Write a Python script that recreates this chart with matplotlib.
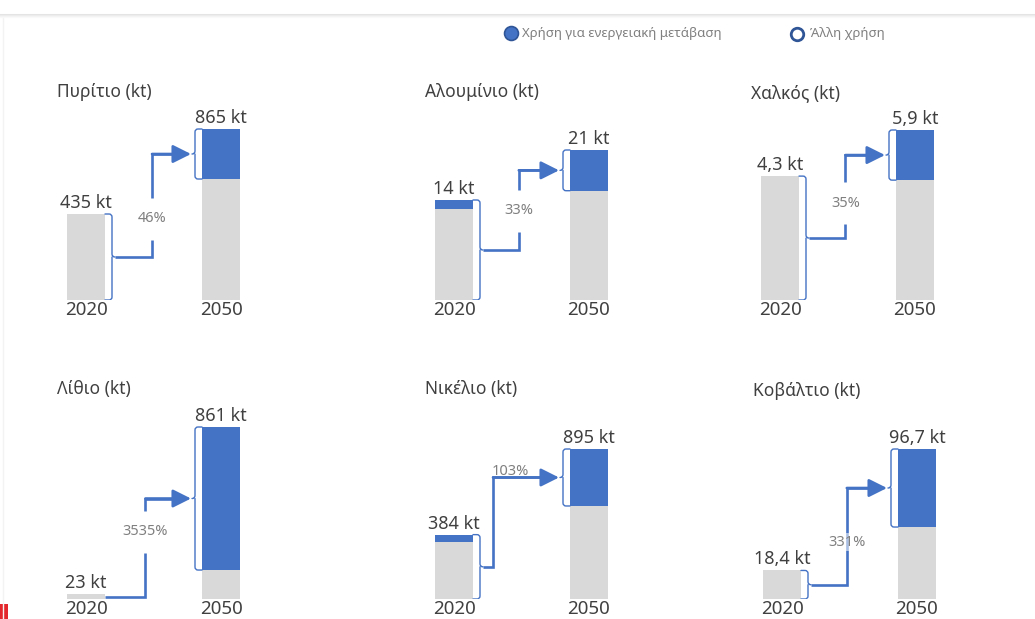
import matplotlib
matplotlib.use('Agg')
import matplotlib.pyplot as plt
from matplotlib.patches import Rectangle, PathPatch
from matplotlib.path import Path
from matplotlib.lines import Line2D

plt.rcParams['font.family'] = ['Noto Sans', 'DejaVu Sans']

# ---------------- data ----------------
minerals = ["Πυρίτιο", "Αλουμίνιο", "Χαλκός", "Λίθιο", "Νικέλιο", "Κοβάλτιο"]
years = ["2020", "2050"]
total_2020 = [435, 14, 4.3, 23, 384, 18.4]
total_2050 = [865, 21, 5.9, 861, 895, 96.7]
transition_2020 = [0, 1.2, 0, 0, 41, 0]
transition_2050 = [253, 5.7, 1.74, 716, 340, 50.3]
growth_labels = ["46%", "33%", "35%", "3535%", "103%", "331%"]
legend_labels = ["Χρήση για ενεργειακή μετάβαση", "Άλλη χρήση"]
unit = "kt"

# ---------------- style / layout ----------------
W, H = 1035, 619
BLUE = '#4472C4'
GREY = '#D9D9D9'
TXT = '#404040'
PCT = '#808080'
PX_UNIT = 135.0          # pixels per x data unit
BW = 38 / PX_UNIT        # bar width
AH = 240                 # axes height in px
centers_2020 = [86, 454, 780, 86, 454, 782]
baselines = [300, 300, 300, 599, 599, 599]
tops_2050 = [129, 150, 130, 427, 449, 449]
title_y = [92, 92, 93, 389, 389, 391]
vline_x = [0.489, 0.48, 0.485, 0.44, 0.289, 0.48]
label_mode = ['gap', 'gap', 'gap', 'gap', 'above', 'over']
label_frac = [0.37, 0.49, 0.42, 0.66, 0, 0.44]


def fx(px):
    return px / W


def fy(py):
    return 1 - py / H


def fmt(v):
    return f"{v:g}".replace('.', ',') + " " + unit


fig = plt.figure(figsize=(W / 100, H / 100), dpi=100)
fig.patch.set_facecolor('white')

# top shadow band, left faint border, red marker
for k, col in enumerate(['#E4E4E4', '#ECECEC', '#F3F3F3', '#F9F9F9']):
    fig.add_artist(Line2D([0, 1], [fy(14 + k), fy(14 + k)], color=col, lw=0.75,
                          transform=fig.transFigure))
fig.add_artist(Line2D([fx(3), fx(3)], [fy(18), 0], color='#F3F3F3', lw=1.0,
                      transform=fig.transFigure))
fig.add_artist(Rectangle((0, 0), fx(8), 15 / H, facecolor='#E3262B', edgecolor='none',
                         lw=0, transform=fig.transFigure))

# legend
fig.add_artist(Line2D([fx(511)], [fy(33)], marker='o', ms=10, mfc=BLUE, mec='#2F5597',
                      mew=1.2, transform=fig.transFigure))
fig.text(fx(522), fy(33), legend_labels[0], ha='left', va='center', fontsize=9.5, color=PCT)
fig.add_artist(Line2D([fx(797)], [fy(34)], marker='o', ms=9, mfc='white', mec='#2F5597',
                      mew=2.0, transform=fig.transFigure))
fig.text(fx(810), fy(34), legend_labels[1], ha='left', va='center', fontsize=9.5, color=PCT)


def bracket(ax, x_edge, y0, y1, side, xpp, ypp):
    w = 7 * xpp * side
    t = 3 * xpp * side
    rx = 3 * xpp * side
    ry = min(3 * ypp, (y1 - y0) / 4)
    xb = x_edge + w
    ym = (y0 + y1) / 2
    verts = [(x_edge, y1), (xb - rx, y1), (xb, y1), (xb, y1 - ry),
             (xb, ym + ry), (xb, ym), (xb + t, ym),
             (xb, ym), (xb, ym - ry),
             (xb, y0 + ry), (xb, y0), (xb - rx, y0), (x_edge, y0)]
    codes = [Path.MOVETO, Path.LINETO, Path.CURVE3, Path.CURVE3,
             Path.LINETO, Path.CURVE3, Path.CURVE3,
             Path.MOVETO, Path.LINETO,
             Path.LINETO, Path.CURVE3, Path.CURVE3, Path.LINETO]
    ax.add_patch(PathPatch(Path(verts, codes), fill=False, ec=BLUE, lw=1.0, zorder=3,
                           capstyle='round', joinstyle='round'))
    return xb + t, ym


for i in range(6):
    c = centers_2020[i]
    base = baselines[i]
    top = tops_2050[i]
    left_px = c - 0.6 * PX_UNIT
    ax = fig.add_axes([fx(left_px), fy(base), 2.2 * PX_UNIT / W, AH / H])
    ymax = total_2050[i] * AH / (base - top)
    ax.set_xlim(-0.6, 1.6)
    ax.set_ylim(0, ymax)
    ax.axis('off')
    ypp = ymax / AH
    xpp = 1 / PX_UNIT

    xs = [0, 1]
    totals = [total_2020[i], total_2050[i]]
    trans = [transition_2020[i], transition_2050[i]]
    other = [t - b for t, b in zip(totals, trans)]
    ax.bar(xs, other, width=BW, color=GREY, zorder=2)
    ax.bar(xs, trans, bottom=other, width=BW, color=BLUE, zorder=2)

    for x, t in zip(xs, totals):
        ax.annotate(fmt(t), (x, t), xytext=(0, 1.5), textcoords='offset points',
                    ha='center', va='bottom', fontsize=13, color=TXT, annotation_clip=False)
    for x, yr in zip(xs, years):
        ax.annotate(yr, (x, 0), xytext=(0, -0.5), textcoords='offset points',
                    ha='center', va='top', fontsize=13.5, color=TXT, annotation_clip=False)

    # brackets
    right_edge = BW / 2
    if total_2020[i] / ypp > 12:
        sx, sy = bracket(ax, right_edge, 0, total_2020[i], +1, xpp, ypp)
    else:
        sx, sy = right_edge, total_2020[i] / 2
    ex, ey = bracket(ax, 1 - BW / 2, other[1], total_2050[i], -1, xpp, ypp)
    tip = ex - 1 * xpp

    xv = vline_x[i]
    mode = label_mode[i]
    lw = 1.9
    if mode == 'gap':
        ly = sy + label_frac[i] * (ey - sy)
        g = 21 * ypp
        ax.plot([sx, xv, xv], [sy, sy, ly - g], color=BLUE, lw=lw,
                solid_joinstyle='miter', solid_capstyle='butt', zorder=3)
        ax.plot([xv, xv, tip - 12 * xpp], [ly + g, ey, ey], color=BLUE, lw=lw,
                solid_joinstyle='miter', solid_capstyle='butt', zorder=3)
        ax.text(xv, ly, growth_labels[i], ha='center', va='center', fontsize=10.5,
                color=PCT, zorder=4)
    else:
        ax.plot([sx, xv, xv, tip - 12 * xpp], [sy, sy, ey, ey], color=BLUE, lw=lw,
                solid_joinstyle='miter', solid_capstyle='butt', zorder=3)
        if mode == 'above':
            ax.annotate(growth_labels[i], (xv, ey), xytext=(-1, -1), textcoords='offset points',
                        ha='left', va='bottom', fontsize=10.5, color=PCT, zorder=4)
        else:
            ly = sy + label_frac[i] * (ey - sy)
            ax.text(xv, ly, growth_labels[i], ha='center', va='center', fontsize=10.5,
                    color=PCT, zorder=4,
                    bbox=dict(boxstyle='square,pad=0.1', fc='white', ec='none', alpha=0.55))
    ax.annotate('', xy=(tip, ey), xytext=(xv, ey),
                arrowprops=dict(arrowstyle='-|>,head_length=1.0,head_width=0.5',
                                color=BLUE, lw=lw, mutation_scale=11,
                                shrinkA=0, shrinkB=0), zorder=3)

    fig.text(fx(c - 29), fy(title_y[i]), f"{minerals[i]} ({unit})", ha='left',
             va='center', fontsize=12.5, color=TXT)

fig.savefig('out.png', dpi=100, facecolor='white')
